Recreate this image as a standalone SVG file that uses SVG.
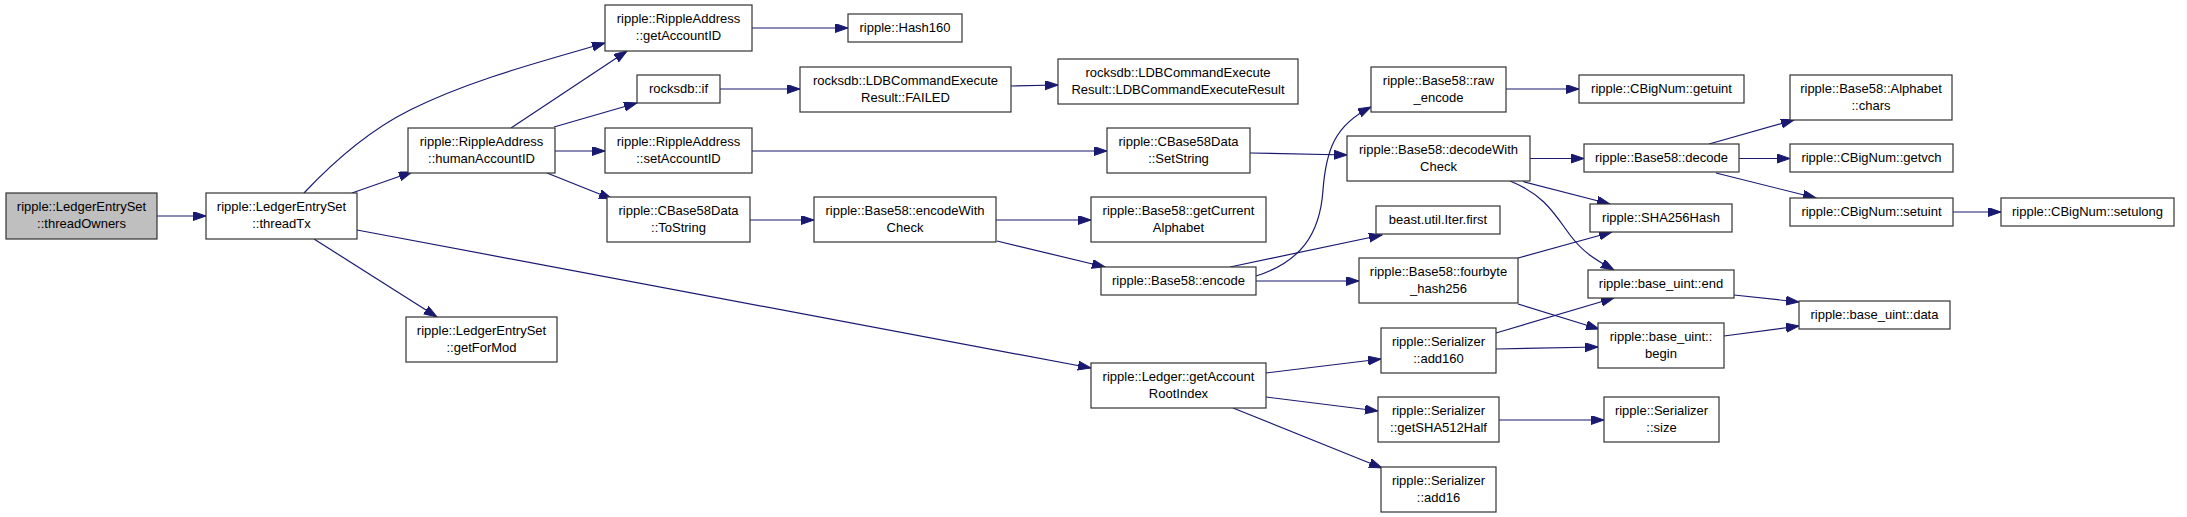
<svg xmlns="http://www.w3.org/2000/svg" width="2187" height="517" viewBox="0 0 2187 517">
<style>
.n rect{fill:#fff;stroke:#333;stroke-width:1.2}
.n.root rect{fill:#bfbfbf}
.n text{font-family:"Liberation Sans",Arial,sans-serif;font-size:13px;fill:#000;text-anchor:middle}
.e path{fill:none;stroke:#191970;stroke-width:1.2;marker-end:url(#arr)}
</style>
<defs>
<marker id="arr" markerUnits="userSpaceOnUse" markerWidth="14" markerHeight="10" refX="13" refY="4.5" orient="auto"><path d="M0,0 L13,4.5 L0,9 z" fill="#191970" stroke="#191970" stroke-width="1"/></marker>
</defs>
<rect width="2187" height="517" fill="#fff"/>
<g id="connectors" class="e">
<path d="M157,216 L206,216"/>
<path d="M304,193 C335,160 370,130 410,110 C470,80 540,62 605,43"/>
<path d="M511,128 L627,51"/>
<path d="M352,193 L412,172"/>
<path d="M314,239 L437,317"/>
<path d="M357,230 L1091,368"/>
<path d="M554,127 L637,103"/>
<path d="M555,151 L605,151"/>
<path d="M547,173 L612,199"/>
<path d="M752,28 L848,28"/>
<path d="M720,89 L800,89"/>
<path d="M1011,86 L1058,85"/>
<path d="M752,151 L1107,151"/>
<path d="M750,220 L814,220"/>
<path d="M996,220 L1091,220"/>
<path d="M997,241 L1105,267"/>
<path d="M1250,153 L1347,155"/>
<path d="M1256,276 C1300,262 1320,235 1323,190 C1326,150 1335,125 1371,107"/>
<path d="M1230,267 L1382,235"/>
<path d="M1256,281 L1359,281"/>
<path d="M1506,89 L1579,89"/>
<path d="M1530,158.5 L1584,158.5"/>
<path d="M1523,181.5 L1610,204"/>
<path d="M1510,181 C1545,195 1555,215 1570,235 C1585,255 1600,262 1614,270"/>
<path d="M1518,258 L1612,232"/>
<path d="M1518,304 L1599,329"/>
<path d="M1709,144 L1794,120"/>
<path d="M1739,158.5 L1790,158.5"/>
<path d="M1716,173 L1816,198"/>
<path d="M1953,212 L2001,212"/>
<path d="M1496,333 L1614,298"/>
<path d="M1496,349 L1598,347"/>
<path d="M1266,373 L1381,359"/>
<path d="M1266,397 L1378,411"/>
<path d="M1233,408 L1382,468"/>
<path d="M1499,420 L1604,420"/>
<path d="M1734,295 L1799,302"/>
<path d="M1724,336 L1799,326"/>
</g>
<g id="n_threadOwners" class="n root"><rect x="6" y="193" width="151" height="46"/><text x="81.5" y="211">ripple::LedgerEntrySet</text><text x="81.5" y="228">::threadOwners</text></g>
<g id="n_threadTx" class="n"><rect x="206" y="193" width="151" height="46"/><text x="281.5" y="211">ripple::LedgerEntrySet</text><text x="281.5" y="228">::threadTx</text></g>
<g id="n_humanAccountID" class="n"><rect x="408" y="128" width="147" height="45"/><text x="481.5" y="146">ripple::RippleAddress</text><text x="481.5" y="163">::humanAccountID</text></g>
<g id="n_getForMod" class="n"><rect x="406" y="317" width="151" height="45"/><text x="481.5" y="335">ripple::LedgerEntrySet</text><text x="481.5" y="352">::getForMod</text></g>
<g id="n_getAccountID" class="n"><rect x="605" y="5" width="147" height="46"/><text x="678.5" y="23">ripple::RippleAddress</text><text x="678.5" y="40">::getAccountID</text></g>
<g id="n_Hash160" class="n"><rect x="848" y="14" width="114" height="28"/><text x="905" y="32">ripple::Hash160</text></g>
<g id="n_rocksdbIf" class="n"><rect x="637" y="75" width="83" height="28"/><text x="678.5" y="93">rocksdb::if</text></g>
<g id="n_FAILED" class="n"><rect x="800" y="67" width="211" height="45"/><text x="905.5" y="85">rocksdb::LDBCommandExecute</text><text x="905.5" y="102">Result::FAILED</text></g>
<g id="n_LDBResult" class="n"><rect x="1058" y="59" width="240" height="45"/><text x="1178" y="77">rocksdb::LDBCommandExecute</text><text x="1178" y="94">Result::LDBCommandExecuteResult</text></g>
<g id="n_setAccountID" class="n"><rect x="605" y="128" width="147" height="45"/><text x="678.5" y="146">ripple::RippleAddress</text><text x="678.5" y="163">::setAccountID</text></g>
<g id="n_ToString" class="n"><rect x="607" y="197" width="143" height="45"/><text x="678.5" y="215">ripple::CBase58Data</text><text x="678.5" y="232">::ToString</text></g>
<g id="n_encodeWithCheck" class="n"><rect x="814" y="197" width="182" height="45"/><text x="905" y="215">ripple::Base58::encodeWith</text><text x="905" y="232">Check</text></g>
<g id="n_SetString" class="n"><rect x="1107" y="128" width="143" height="45"/><text x="1178.5" y="146">ripple::CBase58Data</text><text x="1178.5" y="163">::SetString</text></g>
<g id="n_getCurrentAlphabet" class="n"><rect x="1091" y="197" width="175" height="45"/><text x="1178.5" y="215">ripple::Base58::getCurrent</text><text x="1178.5" y="232">Alphabet</text></g>
<g id="n_raw_encode" class="n"><rect x="1371" y="67" width="135" height="45"/><text x="1438.5" y="85">ripple::Base58::raw</text><text x="1438.5" y="102">_encode</text></g>
<g id="n_getuint" class="n"><rect x="1579" y="75" width="165" height="28"/><text x="1661.5" y="93">ripple::CBigNum::getuint</text></g>
<g id="n_decodeWithCheck" class="n"><rect x="1347" y="136" width="183" height="45"/><text x="1438.5" y="154">ripple::Base58::decodeWith</text><text x="1438.5" y="171">Check</text></g>
<g id="n_decode" class="n"><rect x="1584" y="144" width="155" height="28"/><text x="1661.5" y="162">ripple::Base58::decode</text></g>
<g id="n_beastFirst" class="n"><rect x="1376" y="206" width="124" height="28"/><text x="1438" y="224">beast.util.Iter.first</text></g>
<g id="n_SHA256Hash" class="n"><rect x="1590" y="204" width="142" height="28"/><text x="1661" y="222">ripple::SHA256Hash</text></g>
<g id="n_fourbyte" class="n"><rect x="1359" y="258" width="159" height="45"/><text x="1438.5" y="276">ripple::Base58::fourbyte</text><text x="1438.5" y="293">_hash256</text></g>
<g id="n_encode" class="n"><rect x="1101" y="267" width="155" height="28"/><text x="1178.5" y="285">ripple::Base58::encode</text></g>
<g id="n_add160" class="n"><rect x="1381" y="328" width="115" height="45"/><text x="1438.5" y="346">ripple::Serializer</text><text x="1438.5" y="363">::add160</text></g>
<g id="n_getAccountRootIndex" class="n"><rect x="1091" y="363" width="175" height="45"/><text x="1178.5" y="381">ripple::Ledger::getAccount</text><text x="1178.5" y="398">RootIndex</text></g>
<g id="n_getSHA512Half" class="n"><rect x="1378" y="397" width="121" height="45"/><text x="1438.5" y="415">ripple::Serializer</text><text x="1438.5" y="432">::getSHA512Half</text></g>
<g id="n_add16" class="n"><rect x="1381" y="467" width="115" height="45"/><text x="1438.5" y="485">ripple::Serializer</text><text x="1438.5" y="502">::add16</text></g>
<g id="n_end" class="n"><rect x="1588" y="270" width="146" height="28"/><text x="1661" y="288">ripple::base_uint::end</text></g>
<g id="n_begin" class="n"><rect x="1598" y="323" width="126" height="45"/><text x="1661" y="341">ripple::base_uint::</text><text x="1661" y="358">begin</text></g>
<g id="n_data" class="n"><rect x="1799" y="301" width="151" height="28"/><text x="1874.5" y="319">ripple::base_uint::data</text></g>
<g id="n_size" class="n"><rect x="1604" y="397" width="115" height="45"/><text x="1661.5" y="415">ripple::Serializer</text><text x="1661.5" y="432">::size</text></g>
<g id="n_chars" class="n"><rect x="1790" y="75" width="162" height="45"/><text x="1871" y="93">ripple::Base58::Alphabet</text><text x="1871" y="110">::chars</text></g>
<g id="n_getvch" class="n"><rect x="1790" y="144" width="163" height="28"/><text x="1871.5" y="162">ripple::CBigNum::getvch</text></g>
<g id="n_setuint" class="n"><rect x="1790" y="198" width="163" height="28"/><text x="1871.5" y="216">ripple::CBigNum::setuint</text></g>
<g id="n_setulong" class="n"><rect x="2001" y="198" width="173" height="28"/><text x="2087.5" y="216">ripple::CBigNum::setulong</text></g>
</svg>
